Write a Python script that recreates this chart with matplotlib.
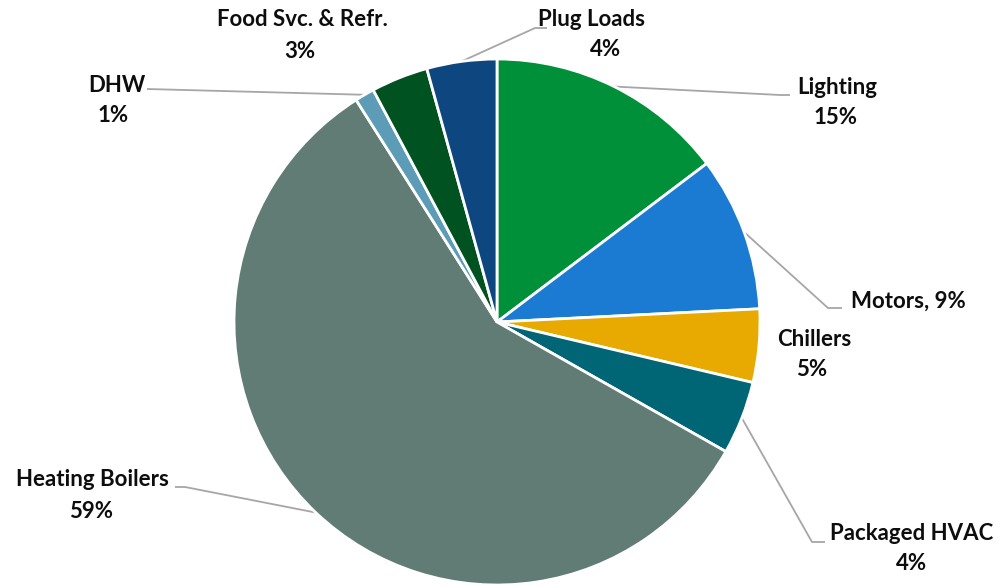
import matplotlib
matplotlib.use('Agg')
import matplotlib.pyplot as plt
import numpy as np

categories = ['Lighting', 'Motors', 'Chillers', 'Packaged HVAC', 'Heating Boilers',
              'DHW', 'Food Svc. & Refr.', 'Plug Loads']
values = [14.7, 9.5, 4.5, 4.5, 57.8, 1.2, 3.5, 4.3]
pct_labels = ['15%', '9%', '5%', '4%', '59%', '1%', '3%', '4%']
colors = ['#00903A', '#1B7BD3', '#E8A900', '#006574', '#617C75',
          '#5C9CB6', '#005220', '#0E4780']

W, H = 1000, 586
cx, cy, R = 497, 322, 263

fig = plt.figure(figsize=(W / 100, H / 100), dpi=100)
ax = fig.add_axes([0, 0, 1, 1])
wedges, _ = ax.pie(values, colors=colors, startangle=90, counterclock=False, radius=1,
                   wedgeprops=dict(edgecolor='white', linewidth=2.0))
ax.set_xlim(-cx / R, (W - cx) / R)
ax.set_ylim((cy - H) / R, cy / R)
ax.set_aspect('auto')
ax.axis('off')


def P(px, py):
    return ((px - cx) / R, (cy - py) / R)


# label layout in pixel positions: text-line centres, leader path after the wedge start
layout = {
    'Lighting': dict(lines=[(837, 88), (836, 118)], path=[(780, 95), (790, 95)]),
    'Motors': dict(lines=[(908, 301)], path=[(828, 308), (842, 308)]),
    'Chillers': dict(lines=[(814, 339), (812, 370)], path=None),
    'Packaged HVAC': dict(lines=[(912, 533), (912, 564)], path=[(812, 542), (825, 542)]),
    'Heating Boilers': dict(lines=[(92, 480), (91, 511)], path=[(185, 487), (175, 487)]),
    'DHW': dict(lines=[(117, 86), (113, 116)], path=[(147, 89)]),
    'Food Svc. & Refr.': dict(lines=[(302, 20), (300, 51)], path=None),
    'Plug Loads': dict(lines=[(592, 19), (606, 50)], path=[(535, 28), (547, 28)]),
}

font = dict(family=['Lato', 'DejaVu Sans'], fontweight='bold', fontsize=16, color='#0d0d0d')
for w, cat, pct in zip(wedges, categories, pct_labels):
    lay = layout[cat]
    if len(lay['lines']) == 1:
        texts = [f'{cat}, {pct}']
    else:
        texts = [cat, pct]
    for t, (px, py) in zip(texts, lay['lines']):
        x, y = P(px, py)
        ax.text(x, y, t, ha='center', va='center', **font)
    if lay['path']:
        ang = np.deg2rad((w.theta1 + w.theta2) / 2)
        xs = [np.cos(ang)] + [P(*p)[0] for p in lay['path']]
        ys = [np.sin(ang)] + [P(*p)[1] for p in lay['path']]
        ax.plot(xs, ys, color='#A6A6A6', lw=1.3, solid_capstyle='butt', zorder=0)

fig.savefig('out.png', dpi=100)
